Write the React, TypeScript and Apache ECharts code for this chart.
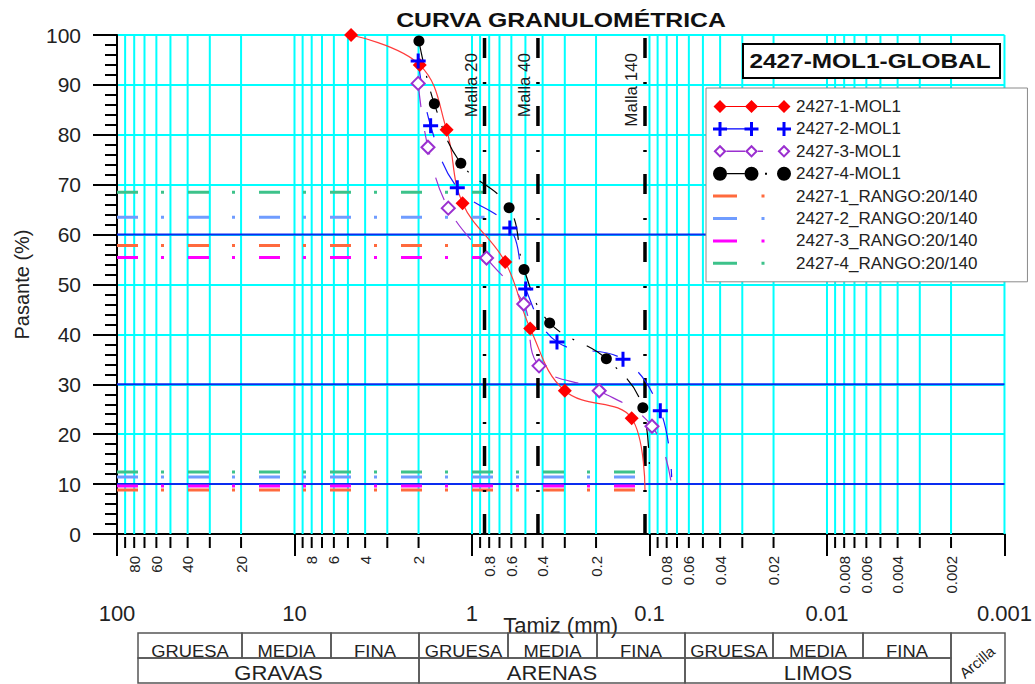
import React, { useEffect, useRef } from "react";
import * as echarts from "echarts";

const FONT = '"Liberation Sans", Arial, Helvetica, sans-serif';

// ---- data ----
const sampleNames = ["2427-1-MOL1", "2427-2-MOL1", "2427-3-MOL1", "2427-4-MOL1"];
const rangoNames = [
  "2427-1_RANGO:20/140",
  "2427-2_RANGO:20/140",
  "2427-3_RANGO:20/140",
  "2427-4_RANGO:20/140",
];

// sieve opening (mm) and % passing for each sample (last point drawn without marker)
const s1Size = [4.8, 1.97, 1.39, 1.13, 0.65, 0.47, 0.3, 0.126, 0.106];
const s1Pass = [100, 94.0, 81.0, 66.3, 54.5, 41.2, 28.7, 23.2, 8.8];
const s2Size = [2.01, 1.71, 1.21, 0.612, 0.498, 0.332, 0.141, 0.0869, 0.075];
const s2Pass = [94.8, 81.8, 69.4, 61.3, 49.1, 38.5, 35.0, 24.7, 11.4];
const s3Size = [2.01, 1.77, 1.36, 0.828, 0.511, 0.419, 0.192, 0.0968, 0.075];
const s3Pass = [90.3, 77.5, 65.3, 55.3, 46.1, 33.7, 28.7, 21.6, 9.7];
const s4Size = [1.99, 1.63, 1.156, 0.618, 0.509, 0.365, 0.175, 0.109, 0.1];
const s4Pass = [98.8, 86.2, 74.3, 65.4, 53.0, 42.3, 35.1, 25.3, 12.4];

// range lines: % passing at Malla 20 (upper) and Malla 140 (lower)
const rangoUpper = [57.8, 63.5, 55.4, 68.5];
const rangoLower = [8.8, 11.4, 9.6, 12.4];

const mallaSizes = [0.85, 0.425, 0.106];
const mallaLabels = ["Malla 20", "Malla 40", "Malla 140"];
const blueRefLines = [60, 30, 10];

const decades = [0.001, 0.01, 0.1, 1, 10];
const multipliers = [1, 2, 3, 4, 5, 6, 7, 8, 9];
const minorTickLabels = [
  "80", "60", "40", "20",
  "8", "6", "4", "2",
  "0.8", "0.6", "0.4", "0.2",
  "0.08", "0.06", "0.04", "0.02",
  "0.008", "0.006", "0.004", "0.002",
];

const tableTop = ["GRUESA", "MEDIA", "FINA", "GRUESA", "MEDIA", "FINA", "GRUESA", "MEDIA", "FINA"];
const tableBottom = ["GRAVAS", "ARENAS", "LIMOS"];

// ---- styling ----
const sampleColors = ["#ff0000", "#0000ff", "#9b30d0", "#000000"];
const rangoColors = ["#ff6a3d", "#6f9cff", "#ff00ff", "#3dc28a"];

const gridValues: number[] = [];
const gridIsDecade: boolean[] = [];
decades.forEach((d) =>
  multipliers.forEach((k) => {
    gridValues.push(Number((d * k).toPrecision(3)));
    gridIsDecade.push(k === 1);
  })
);
const labelSet = new Set(minorTickLabels);

function pts(sizes: number[], pass: number[]) {
  return sizes.map((s, i) =>
    i === sizes.length - 1 ? { value: [s, pass[i]], symbol: "none" } : [s, pass[i]]
  );
}

const PLUS = "path://M4 0H6V4H10V6H6V10H4V6H0V4H4Z";

// ---- legend icon shapes (78 x 14 box) ----
const BOUNDS = "M0 0h0.01v0.01h-0.01Z M78 14h-0.01v-0.01h0.01Z ";
const C = [7, 38.5, 71];
const diamond = (cx: number, r: number) => `M${cx - r} 7L${cx} ${7 - r}L${cx + r} 7L${cx} ${7 + r}Z `;
const diamondRev = (cx: number, r: number) => `M${cx - r} 7L${cx} ${7 + r}L${cx + r} 7L${cx} ${7 - r}Z `;
const hbar = (x1: number, x2: number, h: number) => `M${x1} ${7 - h / 2}H${x2}V${7 + h / 2}H${x1}Z `;
const plus = (cx: number) =>
  `M${cx - 1.5} 0H${cx + 1.5}V5.5H${cx + 7}V8.5H${cx + 1.5}V14H${cx - 1.5}V8.5H${cx - 7}V5.5H${cx - 1.5}Z `;
const circle = (cx: number, r: number) => `M${cx - r} 7A${r} ${r} 0 1 1 ${cx + r} 7A${r} ${r} 0 1 1 ${cx - r} 7Z `;

const sampleIcons = [
  BOUNDS + hbar(C[0], C[2], 1.2) + C.map((c) => diamond(c, 6.5)).join(""),
  BOUNDS + hbar(C[0], C[1], 1.2) + C.map((c) => plus(c)).join(""),
  BOUNDS + hbar(13.5, 32, 1.6) + hbar(45, 50, 1.6) +
    C.map((c) => diamond(c, 6.5) + diamondRev(c, 3.6)).join(""),
  BOUNDS + hbar(14, 31.5, 1.2) + "M52 6H54V8H52Z " + C.map((c) => circle(c, 7)).join(""),
];
const rangoIcon = BOUNDS + hbar(0, 24, 3) + "M48.5 5.5H51.5V8.5H48.5Z";

export default function App() {
  const ref = useRef<HTMLDivElement>(null);
  useEffect(() => {
    document.body.style.margin = "0";
    const chart = echarts.init(ref.current!, undefined, { renderer: "svg" });

    const colEdges = [138, 242, 331, 419, 508, 597, 685, 773, 863, 951, 1005];
    const groupEdges = [138, 419, 685, 951];
    const tTop = 633, tMid = 658, tBot = 683;
    const tableEls: any[] = [];
    for (let i = 0; i < 9; i++) {
      tableEls.push({
        type: "rect", z: 50,
        shape: { x: colEdges[i], y: tTop, width: colEdges[i + 1] - colEdges[i], height: tMid - tTop },
        style: { fill: "none", stroke: "#555", lineWidth: 1.5 },
      });
      tableEls.push({
        type: "text", z: 51, scaleX: 1.08,
        x: (colEdges[i] + colEdges[i + 1]) / 2, y: 651,
        style: { text: tableTop[i], align: "center", verticalAlign: "middle", fontSize: 17, fontFamily: FONT, fill: "#222" },
      });
    }
    for (let i = 0; i < 3; i++) {
      tableEls.push({
        type: "rect", z: 50,
        shape: { x: groupEdges[i], y: tMid, width: groupEdges[i + 1] - groupEdges[i], height: tBot - tMid },
        style: { fill: "none", stroke: "#555", lineWidth: 1.5 },
      });
      tableEls.push({
        type: "text", z: 51, scaleX: 1.1,
        x: (groupEdges[i] + groupEdges[i + 1]) / 2, y: 673,
        style: { text: tableBottom[i], align: "center", verticalAlign: "middle", fontSize: 20, fontFamily: FONT, fill: "#222" },
      });
    }
    tableEls.push({
      type: "rect", z: 50,
      shape: { x: 951, y: tTop, width: 54, height: tBot - tTop },
      style: { fill: "none", stroke: "#555", lineWidth: 1.5 },
    });
    tableEls.push({
      type: "text", z: 51, x: 977, y: 662, rotation: (40 * Math.PI) / 180,
      style: { text: "Arcilla", align: "center", verticalAlign: "middle", fontSize: 15, fontFamily: FONT, fill: "#222" },
    });

    const sampleSeries: any[] = [
      {
        name: sampleNames[0], type: "line", data: pts(s1Size, s1Pass), smooth: 0.4, clip: false, z: 10,
        symbol: "diamond", symbolSize: 14,
        itemStyle: { color: sampleColors[0] },
        lineStyle: { color: "#ff3b3b", width: 1.2 },
      },
      {
        name: sampleNames[1], type: "line", data: pts(s2Size, s2Pass), smooth: 0.4, clip: false, z: 10,
        symbol: PLUS, symbolSize: 15,
        itemStyle: { color: sampleColors[1] },
        lineStyle: { color: "#1a1aff", width: 1.2, type: [26, 26] },
      },
      {
        name: sampleNames[2], type: "line", data: pts(s3Size, s3Pass), smooth: 0.4, clip: false, z: 10,
        symbol: "emptyDiamond", symbolSize: 13,
        itemStyle: { color: sampleColors[2], borderColor: sampleColors[2], borderWidth: 2.5 },
        lineStyle: { color: "#9b30d0", width: 1.2, type: [24, 24] },
      },
      {
        name: sampleNames[3], type: "line", data: pts(s4Size, s4Pass), smooth: 0.4, clip: false, z: 10,
        symbol: "circle", symbolSize: 11,
        itemStyle: { color: sampleColors[3] },
        lineStyle: { color: "#000", width: 1.2, type: [22, 14, 2, 14] },
      },
    ];

    const rangoSeries: any[] = [];
    rangoNames.forEach((n, i) => {
      const base = {
        name: n, type: "line", symbol: "none", clip: false, z: 5, silent: true,
        itemStyle: { color: rangoColors[i] },
        lineStyle: { color: rangoColors[i], width: 3, type: [21, 23, 3, 24], cap: "butt" },
      };
      rangoSeries.push({ ...base, data: [[100, rangoUpper[i]], [mallaSizes[0], rangoUpper[i]]] });
      rangoSeries.push({ ...base, data: [[100, rangoLower[i]], [mallaSizes[2], rangoLower[i]]] });
    });

    const gridSeries = {
      type: "custom", silent: true, clip: false, z: 1,
      data: gridValues.map((v) => [v, 0]),
      renderItem: (params: any, api: any) => {
        const i = params.dataIndex;
        const v = gridValues[i];
        const b = api.coord([v, 0]);
        const t = api.coord([v, 100]);
        const children: any[] = [];
        if (v < 100) {
          children.push({
            type: "line",
            shape: { x1: b[0], y1: b[1], x2: t[0], y2: t[1] },
            style: { stroke: "#00ffff", lineWidth: 2 },
          });
        }
        if (!gridIsDecade[i]) {
          children.push({
            type: "line",
            shape: { x1: b[0], y1: b[1] + 3, x2: b[0], y2: b[1] + 14 },
            style: { stroke: "#000", lineWidth: 2 },
          });
        }
        const lbl = String(v);
        if (labelSet.has(lbl)) {
          children.push({
            type: "text", x: b[0], y: b[1] + 22, rotation: Math.PI / 2,
            style: { text: lbl, align: "right", verticalAlign: "middle", fontSize: 15, fontFamily: FONT, fill: "#222" },
          });
        }
        return { type: "group", children };
      },
    };

    const blueSeries = {
      type: "custom", silent: true, clip: false, z: 2,
      data: blueRefLines.map((y) => [100, y]),
      renderItem: (params: any, api: any) => {
        const y = blueRefLines[params.dataIndex];
        const a = api.coord([100, y]);
        const b = api.coord([0.001, y]);
        return {
          type: "line",
          shape: { x1: a[0], y1: a[1], x2: b[0], y2: b[1] },
          style: { stroke: "#0a2cf0", lineWidth: 2 },
        };
      },
    };

    const mallaSeries = {
      type: "custom", silent: true, clip: false, z: 6,
      data: mallaSizes.map((s) => [s, 0]),
      renderItem: (params: any, api: any) => {
        const v = mallaSizes[params.dataIndex];
        const b = api.coord([v, 0]);
        const t = api.coord([v, 100]);
        return {
          type: "group",
          children: [
            {
              type: "line",
              shape: { x1: b[0], y1: b[1], x2: t[0], y2: t[1] },
              style: { stroke: "#000", lineWidth: 3.5, lineDash: [20, 22, 2, 24], lineCap: "butt" },
            },
            {
              type: "text", x: b[0] - 13, y: t[1] + 18, rotation: Math.PI / 2,
              style: {
                text: mallaLabels[params.dataIndex], align: "right", verticalAlign: "middle",
                fontSize: 17, fontFamily: FONT, fill: "#1a1a1a",
              },
            },
          ],
        };
      },
    };

    const legendData = [
      ...sampleNames.map((n, i) => ({
        name: n, icon: "path://" + sampleIcons[i],
        itemStyle: { color: sampleColors[i], borderWidth: 0 },
      })),
      ...rangoNames.map((n, i) => ({
        name: n, icon: "path://" + rangoIcon,
        itemStyle: { color: rangoColors[i], borderWidth: 0 },
      })),
    ];

    chart.setOption({
      animation: false,
      textStyle: { fontFamily: FONT },
      grid: { left: 117, right: 30, top: 35, bottom: 150, containLabel: false },
      legend: {
        data: legendData,
        orient: "vertical", left: 706, top: 88,
        itemWidth: 78, itemHeight: 14, itemGap: 5.4,
        padding: [10, 50, 10, 7],
        backgroundColor: "#fff", borderColor: "#8a8a8a", borderWidth: 1, borderRadius: 0,
        textStyle: { fontSize: 17, lineHeight: 17, color: "#222", fontFamily: FONT },
        z: 20,
      },
      xAxis: {
        type: "log", logBase: 10, min: 0.001, max: 100, inverse: true, offset: 3,
        axisLine: { show: true, lineStyle: { color: "#000", width: 2 } },
        axisTick: { show: true, length: 22, lineStyle: { color: "#000", width: 2 } },
        axisLabel: {
          margin: 65, fontSize: 22, color: "#222", showMinLabel: true, showMaxLabel: true,
          formatter: (v: number) => String(Number(v.toPrecision(6))),
        },
        splitLine: { show: false },
        minorTick: { show: false },
        name: "Tamiz (mm)", nameLocation: "middle", nameGap: 77, nameMoveOverlap: false,
        nameTextStyle: { fontSize: 22, color: "#222" },
      },
      yAxis: {
        type: "value", min: 0, max: 100, interval: 10,
        axisLine: { show: true, lineStyle: { color: "#000", width: 2 } },
        axisTick: { show: true, length: 24, lineStyle: { color: "#000", width: 2 } },
        minorTick: { show: true, splitNumber: 5, length: 12, lineStyle: { color: "#000", width: 2 } },
        axisLabel: { margin: 36, fontSize: 21, color: "#222" },
        splitLine: { show: true, lineStyle: { color: "#00ffff", width: 2 } },
        name: "Pasante (%)", nameLocation: "middle", nameGap: 85,
        nameTextStyle: { fontSize: 20, color: "#222" },
      },
      graphic: [
        {
          type: "text", z: 60, x: 561, y: 20, scaleX: 1.18,
          style: {
            text: "CURVA GRANULOMÉTRICA", align: "center", verticalAlign: "middle",
            font: 'bold 21px "Liberation Sans", Arial, sans-serif', fill: "#111",
          },
        },
        {
          type: "rect", z: 60,
          shape: { x: 743, y: 44, width: 257, height: 34 },
          style: { fill: "#fff", stroke: "#000", lineWidth: 2 },
        },
        {
          type: "text", z: 61, x: 870, y: 61, scaleX: 1.22,
          style: {
            text: "2427-MOL1-GLOBAL", align: "center", verticalAlign: "middle",
            font: 'bold 20px "Liberation Sans", Arial, sans-serif', fill: "#111",
          },
        },
        ...tableEls,
      ],
      series: [gridSeries, blueSeries, ...rangoSeries, mallaSeries, ...sampleSeries],
    });

    return () => chart.dispose();
  }, []);

  return <div ref={ref} style={{ width: 1035, height: 684 }} />;
}
